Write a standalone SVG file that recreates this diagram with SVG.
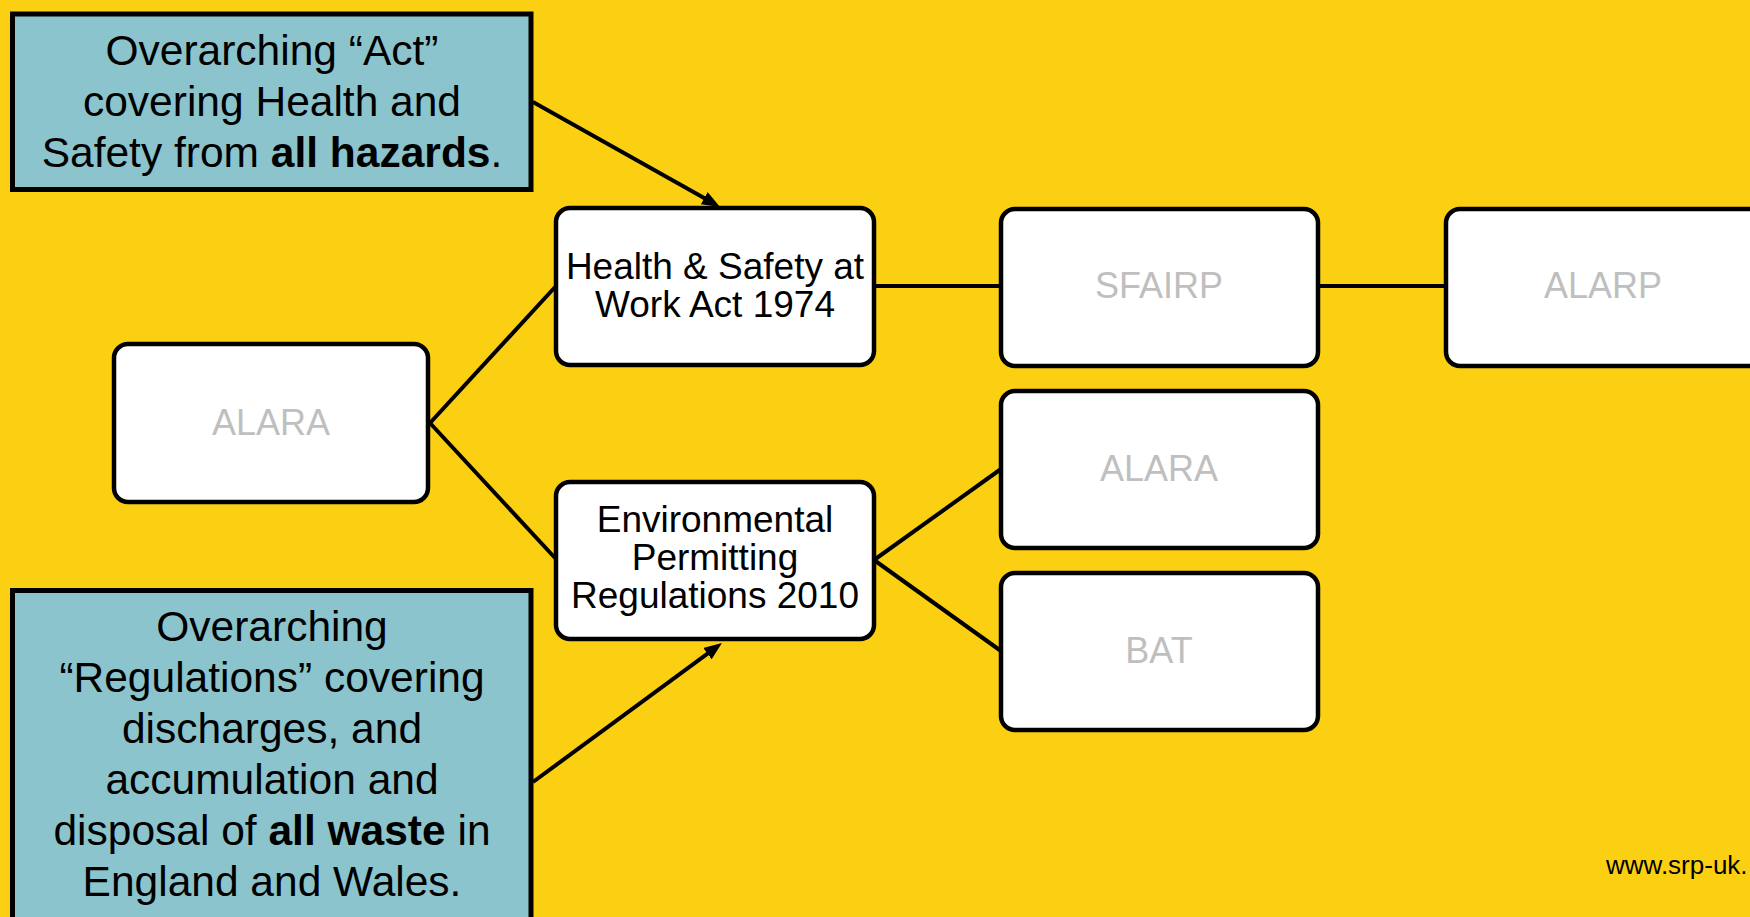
<svg xmlns="http://www.w3.org/2000/svg" width="1750" height="917" viewBox="0 0 1750 917">
<defs>
<style>
.teal{fill:#8BC4CC;stroke:#000;stroke-width:5}
.box{fill:#fff;stroke:#000;stroke-width:4.5}
.t{font-family:"Liberation Sans",Arial,sans-serif;fill:#000;text-anchor:middle}
.tl{font-size:42.5px}
.tb{font-size:37px}
.g{font-family:"Liberation Sans",Arial,sans-serif;fill:#BFBFBF;font-size:36px;text-anchor:middle}
.b{font-weight:bold}
.c{stroke:#000;stroke-width:4;fill:none}
</style>
<marker id="arr" viewBox="0 0 18 14" refX="6" refY="7" markerWidth="18" markerHeight="14" markerUnits="userSpaceOnUse" orient="auto">
<path d="M0,0 L18,7 L0,14 z" fill="#000"/>
</marker>
</defs>
<rect x="0" y="0" width="1750" height="917" fill="#FCD012"/>

<g id="note-act">
<rect class="teal" x="12.5" y="14" width="518.5" height="175.5"/>
<text class="t tl" x="272" y="65">Overarching “Act”</text>
<text class="t tl" x="272" y="116">covering Health and</text>
<text class="t tl" x="272" y="167">Safety from <tspan class="b">all hazards</tspan>.</text>
</g>

<g id="note-regs">
<rect class="teal" x="12.5" y="590.5" width="518.5" height="400"/>
<text class="t tl" x="272" y="641">Overarching</text>
<text class="t tl" x="272" y="692">“Regulations” covering</text>
<text class="t tl" x="272" y="743">discharges, and</text>
<text class="t tl" x="272" y="794">accumulation and</text>
<text class="t tl" x="272" y="845">disposal of <tspan class="b">all waste</tspan> in</text>
<text class="t tl" x="272" y="896">England and Wales.</text>
</g>

<g id="alara-left">
<rect class="box" x="114" y="344" width="314" height="158" rx="14"/>
<text class="g" x="271" y="435">ALARA</text>
</g>

<g id="hswa">
<rect class="box" x="556" y="208" width="318" height="157" rx="14"/>
<text class="t tb" x="715" y="279">Health &amp; Safety at</text>
<text class="t tb" x="715" y="317">Work Act 1974</text>
</g>

<g id="epr">
<rect class="box" x="556" y="482" width="318" height="157" rx="14"/>
<text class="t tb" x="715" y="532">Environmental</text>
<text class="t tb" x="715" y="570">Permitting</text>
<text class="t tb" x="715" y="608">Regulations 2010</text>
</g>

<g id="sfairp">
<rect class="box" x="1001" y="209" width="317" height="157" rx="14"/>
<text class="g" x="1159" y="298">SFAIRP</text>
</g>

<g id="alarp">
<rect class="box" x="1446" y="209" width="317" height="157" rx="14"/>
<text class="g" x="1603" y="298">ALARP</text>
</g>

<g id="alara-right">
<rect class="box" x="1001" y="391" width="317" height="157" rx="14"/>
<text class="g" x="1159" y="481">ALARA</text>
</g>

<g id="bat">
<rect class="box" x="1001" y="573" width="317" height="157" rx="14"/>
<text class="g" x="1159" y="663">BAT</text>
</g>

<g id="connectors">
<line class="c" x1="874" y1="286" x2="1001" y2="286"/>
<line class="c" x1="1318" y1="286" x2="1446" y2="286"/>
<line class="c" x1="430" y1="423" x2="556" y2="286"/>
<line class="c" x1="430" y1="423" x2="556" y2="559"/>
<line class="c" x1="874" y1="560" x2="1001" y2="469"/>
<line class="c" x1="874" y1="560" x2="1001" y2="651"/>
<line class="c" x1="533" y1="102" x2="709.5" y2="201.1" marker-end="url(#arr)"/>
<line class="c" x1="533" y1="782" x2="712.3" y2="650.1" marker-end="url(#arr)"/>
</g>

<text x="1606" y="874" font-family="Liberation Sans, Arial, sans-serif" font-size="26" fill="#000">www.srp-uk.</text>
</svg>
